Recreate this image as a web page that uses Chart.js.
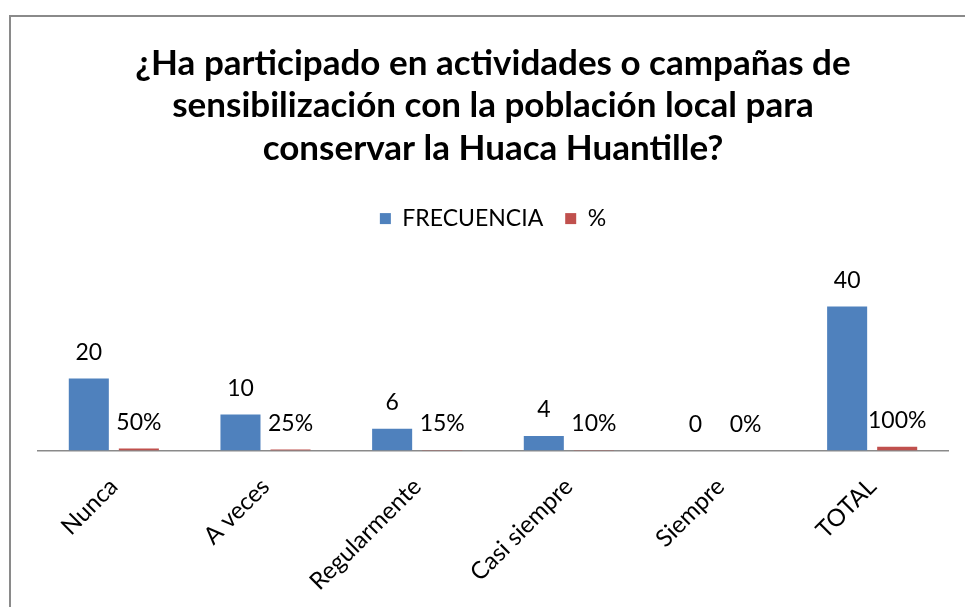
<!DOCTYPE html>
<html>
<head>
<meta charset="utf-8">
<script src="https://cdn.jsdelivr.net/npm/chart.js@4/dist/chart.umd.min.js"></script>
<style>
  html, body { margin: 0; padding: 0; background: #fff; }
  #wrap { position: relative; width: 965px; height: 607px; overflow: hidden; }
  #frame { position: absolute; left: 9px; top: 15px; width: 1000px; height: 700px;
           border-left: 2px solid #8a8a8a; border-top: 2px solid #8a8a8a; pointer-events: none; }
</style>
</head>
<body>
<div id="wrap">
  <canvas id="myChart" width="965" height="607"></canvas>
  <div id="frame"></div>
</div>
<script>
// data
var categories = ["Nunca", "A veces", "Regularmente", "Casi siempre", "Siempre", "TOTAL"];
var frecuencia = [20, 10, 6, 4, 0, 40];
var porcentaje = [0.5, 0.25, 0.15, 0.1, 0, 1];
var titleLines = ["¿Ha participado en actividades o campañas de",
                  "sensibilización con la población local para",
                  "conservar la Huaca Huantille?"];

var FONT = "Lato, 'Open Sans', sans-serif";

// value labels above each bar
var barLabels = {
  id: "barLabels",
  afterDatasetsDraw: function(chart) {
    var ctx = chart.ctx;
    ctx.save();
    ctx.font = "23px " + FONT;
    ctx.fillStyle = "#000";
    ctx.textAlign = "center";
    ctx.textBaseline = "middle";
    chart.data.datasets.forEach(function(ds, i) {
      var meta = chart.getDatasetMeta(i);
      meta.data.forEach(function(bar, j) {
        var v = ds.data[j];
        var txt = i === 1 ? Math.round(v * 100) + "%" : String(v);
        ctx.fillText(txt, bar.x, bar.y - 26);
      });
    });
    ctx.restore();
  }
};

var chart = new Chart(document.getElementById("myChart").getContext("2d"), {
  type: "bar",
  data: {
    labels: categories,
    datasets: [
      { label: "FRECUENCIA", data: frecuencia, backgroundColor: "#4F81BD",
        categoryPercentage: 0.66, barPercentage: 0.8 },
      { label: "%", data: porcentaje, backgroundColor: "#C0504D",
        categoryPercentage: 0.66, barPercentage: 0.8 }
    ]
  },
  options: {
    responsive: false,
    animation: false,
    layout: { padding: { left: 38, right: 17, bottom: -11, top: 0 } },
    plugins: {
      title: {
        display: true,
        text: titleLines,
        color: "#000",
        font: { family: FONT, size: 35, weight: "bold", lineHeight: 1.22 },
        padding: { top: 42, bottom: 15 }
      },
      legend: {
        display: true,
        labels: {
          color: "#000",
          font: { family: FONT, size: 23 },
          boxWidth: 11,
          boxHeight: 11,
          padding: 22
        }
      },
      tooltip: { enabled: false }
    },
    scales: {
      x: {
        grid: { display: false, drawTicks: false },
        border: { display: true, color: "#8a8a8a", width: 1.5 },
        ticks: { color: "#000", font: { family: FONT, size: 24 },
                 minRotation: 45, maxRotation: 45, padding: 22 }
      },
      y: {
        display: false,
        min: 0,
        max: 58.5
      }
    }
  },
  plugins: [barLabels]
});
</script>
</body>
</html>
